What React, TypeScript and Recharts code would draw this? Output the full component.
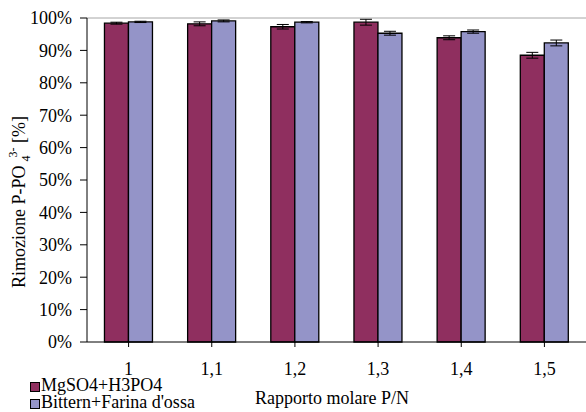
import { BarChart, Bar, XAxis, YAxis, ErrorBar, ReferenceLine } from 'recharts';

const categories = ['1', '1,1', '1,2', '1,3', '1,4', '1,5'];
const mgso4 = [98.4, 98.2, 97.3, 98.7, 93.9, 88.5];
const mgso4Err = [0.3, 0.6, 0.7, 0.9, 0.6, 0.9];
const bittern = [98.8, 99.1, 98.7, 95.3, 95.8, 92.3];
const bitternErr = [0.2, 0.3, 0.2, 0.6, 0.5, 0.9];
const yTicks = [0, 10, 20, 30, 40, 50, 60, 70, 80, 90, 100];

const MAROON = '#8f2f5f';
const LAVENDER = '#9494c8';
const FONT = 'Liberation Serif, DejaVu Serif, serif';
const FS = 18;

const data = categories.map((c, i) => ({
  name: c,
  a: mgso4[i],
  aErr: mgso4Err[i],
  b: bittern[i],
  bErr: bitternErr[i],
}));

const series = [
  { key: 'a', label: 'MgSO4+H3PO4', color: MAROON },
  { key: 'b', label: 'Bittern+Farina d\'ossa', color: LAVENDER },
];

function LegendBox() {
  return (
    <div
      style={{
        position: 'absolute',
        left: 30,
        top: 377,
        fontFamily: FONT,
        fontSize: FS,
        lineHeight: '17px',
        color: '#000',
        whiteSpace: 'nowrap',
      }}
    >
      {series.map((s) => (
        <div key={s.key} style={{ display: 'flex', alignItems: 'center', height: 17 }}>
          <span
            style={{
              display: 'inline-block',
              width: 8,
              height: 8,
              background: s.color,
              border: '1px solid #000',
              marginRight: 1,
              marginTop: 2,
            }}
          />
          {s.label}
        </div>
      ))}
    </div>
  );
}

function YLabel() {
  return (
    <text
      transform="translate(25,202) rotate(-90)"
      textAnchor="middle"
      fontFamily={FONT}
      fontSize={FS}
      fill="#000"
    >
      Rimozione P-PO
      <tspan fontSize={12} dx={4} dy={5}>4</tspan>
      <tspan fontSize={12} dx={-2} dy={-13}>3-</tspan>
      <tspan dy={8}> [%]</tspan>
    </text>
  );
}

export default function App() {
  return (
    <div style={{ position: 'absolute', left: 0, top: 0, width: 586, height: 412, background: '#fff' }}>
      <BarChart
        width={586}
        height={412}
        data={data}
        margin={{ top: 18, right: 0, left: 0, bottom: 40 }}
        barCategoryGap="21%"
        barGap={0}
      >
        <ReferenceLine y={100} stroke="#a6a6a6" strokeWidth={1} />
        <XAxis
          dataKey="name"
          height={30}
          axisLine={{ stroke: '#000' }}
          tickLine={{ stroke: '#000' }}
          tickSize={5}
          tickMargin={15}
          tick={{ fontFamily: FONT, fontSize: FS, fill: '#000' }}
          interval={0}
        />
        <YAxis
          width={87}
          domain={[0, 100]}
          ticks={yTicks}
          interval={0}
          tickFormatter={(v: number) => `${v}%`}
          axisLine={{ stroke: '#000' }}
          tickLine={{ stroke: '#000' }}
          tickSize={7}
          tickMargin={8}
          tick={{ fontFamily: FONT, fontSize: FS, fill: '#000' }}
        />
        <Bar dataKey="a" name={series[0].label} fill={MAROON} stroke="#000" strokeWidth={1.3} isAnimationActive={false}>
          <ErrorBar dataKey="aErr" width={6} stroke="#000" strokeWidth={1} />
        </Bar>
        <Bar dataKey="b" name={series[1].label} fill={LAVENDER} stroke="#000" strokeWidth={1.3} isAnimationActive={false}>
          <ErrorBar dataKey="bErr" width={6} stroke="#000" strokeWidth={1} />
        </Bar>
        <YLabel />
        <text x={332} y={404} textAnchor="middle" fontFamily={FONT} fontSize={FS} fill="#000">
          Rapporto molare P/N
        </text>
      </BarChart>
      <LegendBox />
    </div>
  );
}
